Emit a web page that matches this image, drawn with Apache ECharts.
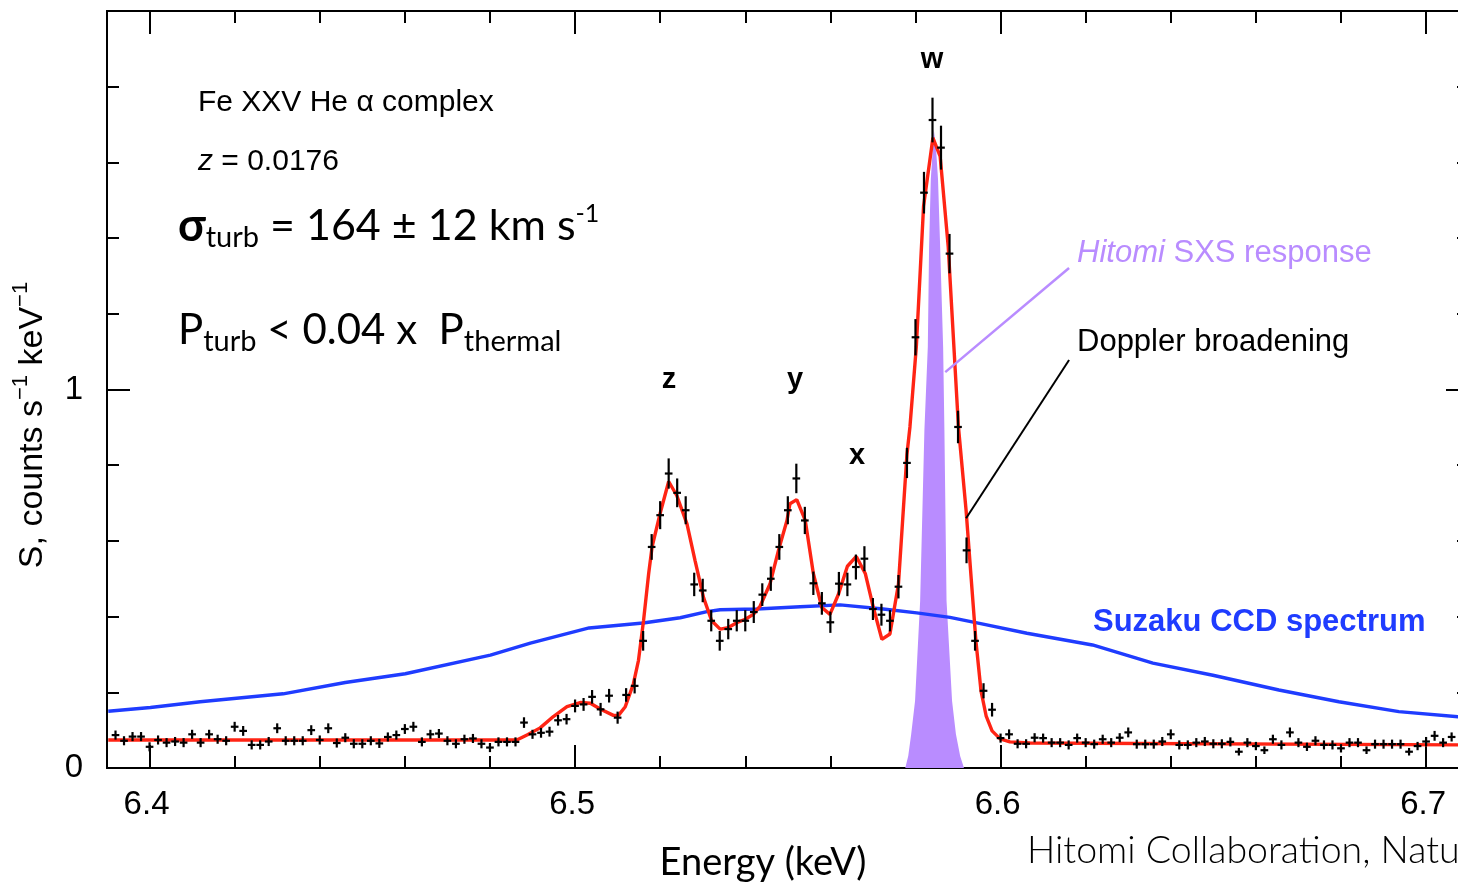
<!DOCTYPE html>
<html>
<head>
<meta charset="utf-8">
<title>Fe XXV He α complex — Hitomi SXS vs Suzaku</title>
<script src="https://cdn.jsdelivr.net/npm/echarts@6/dist/echarts.min.js"></script>
<style>
  html, body { margin: 0; padding: 0; background: #fff; }
  #chart { width: 1458px; height: 883px; }
</style>
</head>
<body>
<div id="chart"></div>
<script>
// --- data -------------------------------------------------------------------
// Hitomi SXS bins: centres start at 6.392 keV, 2 eV apart.
const BIN_START = 6.392;
const BIN_STEP = 0.002;
const sxsCounts = [
  0.087, 0.072, 0.083, 0.083, 0.056, 0.074, 0.067, 0.070, 0.067, 0.089,
  0.067, 0.089, 0.076, 0.072, 0.109, 0.098, 0.061, 0.061, 0.070, 0.105,
  0.072, 0.072, 0.072, 0.100, 0.074, 0.105, 0.066, 0.080, 0.064, 0.064,
  0.072, 0.065, 0.082, 0.087, 0.103, 0.109, 0.069, 0.089, 0.091, 0.072,
  0.064, 0.076, 0.078, 0.064, 0.054, 0.069, 0.069, 0.069, 0.120, 0.089,
  0.093, 0.096, 0.126, 0.129, 0.164, 0.168, 0.188, 0.155, 0.191, 0.133,
  0.193, 0.217, 0.336, 0.584, 0.668, 0.778, 0.727, 0.681, 0.485, 0.469,
  0.389, 0.336, 0.367, 0.389, 0.389, 0.412, 0.458, 0.500, 0.584, 0.681,
  0.765, 0.654, 0.488, 0.435, 0.385, 0.487, 0.485, 0.531, 0.553, 0.420,
  0.405, 0.389, 0.479, 0.806, 1.138, 1.520, 1.712, 1.639, 1.359, 0.901,
  0.575, 0.336, 0.204, 0.154, 0.079, 0.089, 0.064, 0.064, 0.080, 0.079,
  0.067, 0.067, 0.061, 0.079, 0.067, 0.063, 0.076, 0.067, 0.080, 0.094,
  0.063, 0.063, 0.063, 0.070, 0.089, 0.061, 0.061, 0.067, 0.070, 0.064,
  0.064, 0.069, 0.043, 0.067, 0.058, 0.047, 0.076, 0.061, 0.094, 0.067,
  0.056, 0.072, 0.061, 0.061, 0.052, 0.067, 0.067, 0.047, 0.063, 0.063,
  0.063, 0.063, 0.043, 0.058, 0.070, 0.085, 0.067, 0.082,
];
const sxsErrors = [
  0.012, 0.012, 0.012, 0.012, 0.012, 0.012, 0.012, 0.012, 0.012, 0.012,
  0.012, 0.012, 0.012, 0.012, 0.013, 0.013, 0.012, 0.012, 0.012, 0.013,
  0.012, 0.012, 0.012, 0.013, 0.012, 0.013, 0.012, 0.012, 0.012, 0.012,
  0.012, 0.012, 0.012, 0.012, 0.013, 0.013, 0.012, 0.012, 0.012, 0.012,
  0.012, 0.012, 0.012, 0.012, 0.012, 0.012, 0.012, 0.012, 0.014, 0.012,
  0.013, 0.013, 0.014, 0.014, 0.017, 0.017, 0.018, 0.017, 0.018, 0.016,
  0.018, 0.020, 0.026, 0.034, 0.037, 0.040, 0.038, 0.037, 0.031, 0.031,
  0.028, 0.026, 0.027, 0.028, 0.028, 0.029, 0.030, 0.032, 0.034, 0.037,
  0.039, 0.036, 0.031, 0.030, 0.028, 0.031, 0.031, 0.033, 0.033, 0.029,
  0.029, 0.028, 0.031, 0.040, 0.048, 0.055, 0.059, 0.058, 0.052, 0.043,
  0.034, 0.026, 0.020, 0.018, 0.012, 0.013, 0.012, 0.012, 0.012, 0.012,
  0.012, 0.012, 0.012, 0.012, 0.012, 0.012, 0.012, 0.012, 0.012, 0.013,
  0.012, 0.012, 0.012, 0.012, 0.013, 0.012, 0.012, 0.012, 0.012, 0.012,
  0.012, 0.012, 0.010, 0.012, 0.011, 0.010, 0.012, 0.012, 0.013, 0.012,
  0.011, 0.012, 0.012, 0.012, 0.011, 0.012, 0.012, 0.010, 0.012, 0.012,
  0.012, 0.012, 0.010, 0.011, 0.012, 0.013, 0.012, 0.012,
];

// best-fit model (red)
const modelEnergy = [
  6.3903, 6.4863, 6.4887, 6.4918, 6.4949, 6.4981, 6.5012, 6.5036, 6.5059, 6.5090,
  6.5102, 6.5118, 6.5137, 6.5149, 6.5161, 6.5173, 6.5181, 6.5200, 6.5220, 6.5239,
  6.5263, 6.5282, 6.5302, 6.5321, 6.5341, 6.5360, 6.5380, 6.5400, 6.5419, 6.5435,
  6.5458, 6.5478, 6.5498, 6.5505, 6.5521, 6.5541, 6.5560, 6.5580, 6.5599, 6.5619,
  6.5640, 6.5661, 6.5682, 6.5701, 6.5721, 6.5740, 6.5760, 6.5780, 6.5787, 6.5802,
  6.5819, 6.5841, 6.5858, 6.5877, 6.5901, 6.5919, 6.5933, 6.5942, 6.5954, 6.5966,
  6.5980, 6.5999, 6.6022, 6.6069, 6.7100,
];
const modelValue = [
  0.074, 0.074, 0.087, 0.106, 0.136, 0.162, 0.173, 0.171, 0.156, 0.139,
  0.139, 0.162, 0.222, 0.284, 0.390, 0.514, 0.584, 0.673, 0.757, 0.720,
  0.645, 0.548, 0.450, 0.389, 0.367, 0.371, 0.384, 0.393, 0.406, 0.428,
  0.486, 0.575, 0.654, 0.698, 0.709, 0.654, 0.514, 0.424, 0.406, 0.459,
  0.533, 0.559, 0.514, 0.424, 0.340, 0.354, 0.486, 0.829, 0.901, 1.113,
  1.484, 1.665, 1.616, 1.377, 0.901, 0.680, 0.470, 0.336, 0.204, 0.138,
  0.098, 0.077, 0.069, 0.066, 0.061,
];

// Suzaku CCD spectrum (blue)
const suzakuEnergy = [
  6.3903, 6.4002, 6.4119, 6.4314, 6.4460, 6.4601, 6.4801, 6.4895, 6.5033, 6.5160,
  6.5247, 6.5310, 6.5341, 6.5427, 6.5529, 6.5623, 6.5724, 6.5803, 6.5881, 6.5959,
  6.6062, 6.6216, 6.6358, 6.6499, 6.6654, 6.6795, 6.6936, 6.7100,
];
const suzakuValue = [
  0.150, 0.160, 0.175, 0.196, 0.226, 0.249, 0.298, 0.330, 0.370, 0.383,
  0.397, 0.413, 0.418, 0.420, 0.426, 0.431, 0.420, 0.410, 0.398, 0.380,
  0.356, 0.325, 0.277, 0.245, 0.206, 0.175, 0.149, 0.133,
];

// Hitomi SXS instrumental response (purple fill)
const responseEnergy = [
  6.5776, 6.5783, 6.5790, 6.5799, 6.5811, 6.5821, 6.5829, 6.5832, 6.5836, 6.5841,
  6.5843, 6.5848, 6.5853, 6.5858, 6.5865, 6.5868, 6.5873, 6.5886, 6.5895, 6.5905,
  6.5914,
];
const responseValue = [
  0, 0.032, 0.090, 0.177, 0.442, 0.893, 1.113, 1.377, 1.555, 1.642,
  1.687, 1.642, 1.555, 1.377, 1.113, 0.893, 0.442, 0.177, 0.090, 0.032,
  0,
];

// leader lines, in (keV, S)
const sxsLeader = [[6.6161, 1.321], [6.5870, 1.046]];
const dopplerLeader = [[6.6161, 1.078], [6.5919, 0.660]];

const xMajorTicks = [6.4, 6.5, 6.6, 6.7];
const xMinorTicks = [6.40, 6.42, 6.44, 6.46, 6.48, 6.50, 6.52, 6.54, 6.56, 6.58,
  6.60, 6.62, 6.64, 6.66, 6.68, 6.70];

// --- look -------------------------------------------------------------------
const HELV = "'Liberation Sans', Arial, sans-serif";
const AVENIR = "Lato, 'Noto Sans', sans-serif";
const RED = "#ff2414";
const BLUE = "#1f3cff";
const PURPLE = "#b98cff";
const CROSS_HALF = 0.0009; // half width of the bin bar, keV
const X_MIN = 6.39, X_MAX = 6.7075; // visible part; the right frame sits just past the edge

const zip = (xs, ys) => xs.map((x, i) => [x, ys[i]]);
const frame = { show: true, onZero: false, lineStyle: { color: "#000", width: 2 } };
const tickStyle = { color: "#000", width: 2 };

function xAxisOf(position, ticks, len, labels) {
  return {
    type: "value", min: X_MIN, max: X_MAX, position,
    axisLine: frame,
    axisTick: { inside: true, length: len, lineStyle: tickStyle, customValues: ticks },
    axisLabel: labels
      ? { customValues: ticks, fontSize: 33, fontFamily: HELV, color: "#000", margin: 20,
          padding: [0, 6, 0, 0], formatter: (v) => v.toFixed(1) }
      : { show: false },
    splitLine: { show: false },
  };
}
function yAxisOf(position, labels, offset = 0) {
  return {
    type: "value", min: 0, max: 2, interval: 1, position, offset,
    axisLine: frame,
    axisTick: { inside: true, length: 23, lineStyle: tickStyle },
    minorTick: { show: true, splitNumber: 5, length: 12, lineStyle: tickStyle },
    axisLabel: labels
      ? { fontSize: 33, fontFamily: HELV, color: "#000", margin: 24, showMaxLabel: false }
      : { show: false },
    splitLine: { show: false },
    minorSplitLine: { show: false },
  };
}

// text pieces laid side by side (sub/superscripts), widths from canvas metrics
const measureCtx = document.createElement("canvas").getContext("2d");
function fontOf(p) {
  return `${p.italic ? "italic" : "normal"} ${p.weight || "normal"} ${p.size}px ${p.family || HELV}`;
}
function pieces(x, y, parts, color = "#000") {
  const out = [];
  let cx = x;
  for (const p of parts) {
    const font = fontOf(p);
    out.push({
      type: "text", x: cx, y: y + (p.dy || 0), z: 100,
      style: { text: p.text, font, fill: p.color || color, align: "left", verticalAlign: "middle" },
    });
    measureCtx.font = font;
    cx += measureCtx.measureText(p.text).width;
  }
  out.width = cx - x;
  return out;
}
function label(x, y, text, size, extra = {}) {
  return {
    type: "text", x, y, z: 100,
    style: { text, font: fontOf({ size, ...extra }), fill: extra.color || "#000",
      align: extra.align || "center", verticalAlign: "middle" },
  };
}

const yTitleParts = [
  { text: "S, counts s", size: 34 },
  { text: "−1", size: 22, dy: -12 },
  { text: " keV", size: 34 },
  { text: "−1", size: 22, dy: -12 },
];
const yTitleW = pieces(0, 0, yTitleParts).width;

const graphics = [
  ...pieces(198, 103, [{ text: "Fe XXV He α complex", size: 30 }]),
  ...pieces(198, 162, [{ text: "z", size: 30, italic: true }, { text: " = 0.0176", size: 30 }]),
  ...pieces(178, 226, [
    { text: "σ", size: 45, weight: "bold", family: AVENIR },
    { text: "turb", size: 29, dy: 12, family: AVENIR },
    { text: " = 164 ± 12 km s", size: 43, family: AVENIR },
    { text: "-1", size: 25, dy: -12, family: AVENIR },
  ]),
  ...pieces(178, 330, [
    { text: "P", size: 42, family: AVENIR },
    { text: "turb", size: 29, dy: 12, family: AVENIR },
    { text: " < 0.04 x  P", size: 42, family: AVENIR },
    { text: "thermal", size: 29, dy: 12, family: AVENIR },
  ]),
  label(932, 60, "w", 29, { weight: "bold" }),
  label(669, 380, "z", 29, { weight: "bold" }),
  label(795, 380, "y", 29, { weight: "bold" }),
  label(857, 456, "x", 29, { weight: "bold" }),
  ...pieces(1077, 253, [
    { text: "Hitomi", size: 31, italic: true },
    { text: " SXS response", size: 31 },
  ], PURPLE),
  ...pieces(1077, 342, [{ text: "Doppler broadening", size: 31 }]),
  ...pieces(1093, 622, [{ text: "Suzaku CCD spectrum", size: 31, weight: "bold" }], BLUE),
  label(763, 863, "Energy (keV)", 38, { family: AVENIR }),
  label(1027, 851, "Hitomi Collaboration, Nature 2016", 37.5,
    { family: AVENIR, weight: 300, align: "left" }),
  {
    type: "group", x: 33, y: 425, rotation: Math.PI / 2, z: 100,
    children: pieces(-yTitleW / 2, 0, yTitleParts),
  },
];

// --- chart ------------------------------------------------------------------
const chart = echarts.init(document.getElementById("chart"), null, { renderer: "canvas" });
chart.setOption({
  animation: false,
  backgroundColor: "#fff",
  grid: { left: 107, top: 11, width: 1351, height: 757, containLabel: false },
  xAxis: [
    xAxisOf("bottom", xMajorTicks, 23, true),
    xAxisOf("bottom", xMinorTicks, 12, false),
    xAxisOf("top", xMajorTicks, 23, false),
    xAxisOf("top", xMinorTicks, 12, false),
  ],
  yAxis: [yAxisOf("left", true), yAxisOf("right", false, 11)],
  series: [
    {
      name: "SXS response", type: "line", data: zip(responseEnergy, responseValue),
      symbol: "none", z: 1, lineStyle: { width: 0 },
      areaStyle: { color: PURPLE, opacity: 1 }, itemStyle: { color: PURPLE },
    },
    {
      name: "Suzaku", type: "line", data: zip(suzakuEnergy, suzakuValue),
      symbol: "none", z: 2, lineStyle: { color: BLUE, width: 3.4 },
    },
    {
      name: "model", type: "line", data: zip(modelEnergy, modelValue),
      symbol: "none", z: 3, lineStyle: { color: RED, width: 3.4 },
    },
    {
      name: "SXS", type: "custom", z: 4,
      data: sxsCounts.map((c, i) => [BIN_START + BIN_STEP * i, c, sxsErrors[i]]),
      encode: { x: 0, y: 1 },
      renderItem(params, api) {
        const e = api.value(0), v = api.value(1), err = api.value(2);
        const l = api.coord([e - CROSS_HALF, v]), r = api.coord([e + CROSS_HALF, v]);
        const t = api.coord([e, v + err]), b = api.coord([e, v - err]);
        const st = { stroke: "#000", lineWidth: 2.2 };
        return {
          type: "group",
          children: [
            { type: "line", shape: { x1: l[0], y1: l[1], x2: r[0], y2: r[1] }, style: st },
            { type: "line", shape: { x1: t[0], y1: t[1], x2: b[0], y2: b[1] }, style: st },
          ],
        };
      },
    },
    {
      name: "sxs leader", type: "line", data: sxsLeader, symbol: "none", z: 5,
      lineStyle: { color: PURPLE, width: 2.5 },
    },
    {
      name: "doppler leader", type: "line", data: dopplerLeader, symbol: "none", z: 5,
      lineStyle: { color: "#000", width: 2 },
    },
  ],
  graphic: graphics,
});
</script>
</body>
</html>
